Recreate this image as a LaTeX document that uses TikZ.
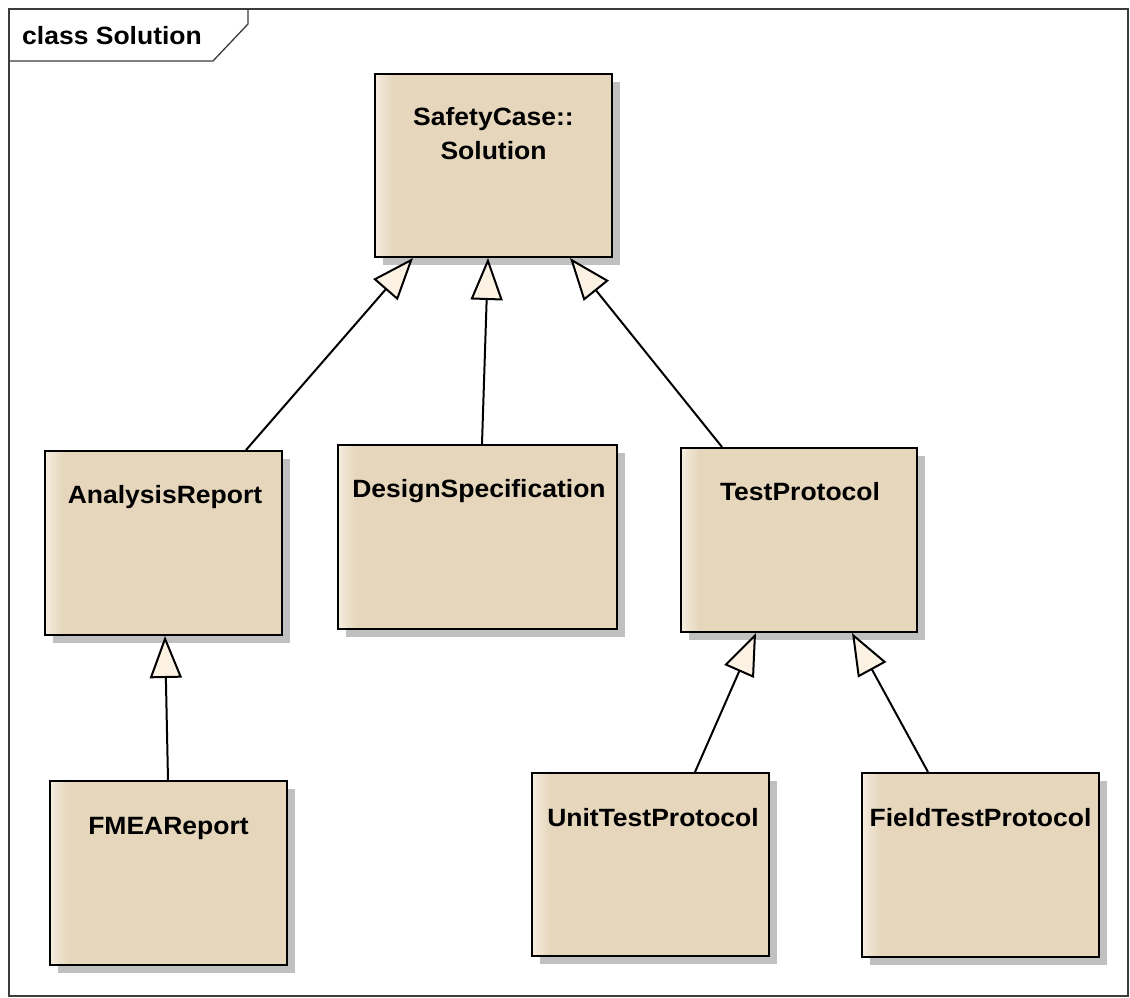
\documentclass[tikz,border=0pt]{standalone}
\usepackage{fontspec}
\newfontfamily\umlfont[FakeStretch=1.06]{Liberation Sans}
\usetikzlibrary{arrows.meta,shadows}
\definecolor{boxfill}{RGB}{229,214,188}
\definecolor{boxlight}{RGB}{245,236,222}
\definecolor{shadowgray}{RGB}{192,192,192}
\definecolor{tipfill}{RGB}{251,242,228}
\definecolor{framegray}{RGB}{60,60,60}
\begin{document}
\begin{tikzpicture}[x=1pt,y=-1pt,
  classbox/.style={draw=black, line width=2pt, fill=boxfill, inner sep=0pt,
    drop shadow={shadow xshift=8pt, shadow yshift=-8pt, fill=shadowgray, opacity=1},
    path picture={\foreach \i in {0,...,9}{
        \pgfmathsetmacro\p{\i*10}
        \fill[boxfill!\p!boxlight]
          ([xshift={\i*1.8}]path picture bounding box.south west) rectangle
          ([xshift={\i*1.8+1.9}]path picture bounding box.north west);}}},
  classtext/.style={anchor=base, inner sep=0pt, font=\umlfont\bfseries\fontsize{25}{30}\selectfont},
  gen/.style={draw=black, line width=2pt, -{Triangle[length=42pt, width=32pt, fill=tipfill]}}
]
\useasboundingbox (0,0) rectangle (1130,998);
% frame
\draw[framegray, line width=1.3pt] (9,9) rectangle (1128,996);
\coordinate (tabA) at (9,61);
\coordinate (tabB) at (213,61);
\coordinate (tabC) at (248,24);
\coordinate (tabD) at (248,9);
\draw[framegray, line width=1.3pt] (tabA) -- (tabB) -- (tabC) -- (tabD);
\node[anchor=base west, inner sep=0pt, font=\umlfont\bfseries\fontsize{25}{30}\selectfont] (title) at (22,45) {class Solution};

% boxes
\node[classbox, minimum width=237pt, minimum height=183pt] (sol) at (493.5,165.5) {};
\node[classbox, minimum width=237pt, minimum height=184pt] (ar) at (163.5,543) {};
\node[classbox, minimum width=279pt, minimum height=184pt] (ds) at (477.5,537) {};
\node[classbox, minimum width=236pt, minimum height=184pt] (tp) at (799,540) {};
\node[classbox, minimum width=237pt, minimum height=184pt] (fm) at (168.5,873) {};
\node[classbox, minimum width=237pt, minimum height=183pt] (ut) at (650.5,864.5) {};
\node[classbox, minimum width=237pt, minimum height=184pt] (ft) at (980.5,865) {};

% texts
\node[classtext] (solt1) at (493.5,125) {SafetyCase::};
\node[classtext] (solt2) at (493.5,159) {Solution};
\node[classtext] (art) at (165,503) {AnalysisReport};
\node[classtext] (dst) at (479,497) {DesignSpecification};
\node[classtext] (tpt) at (800,500) {TestProtocol};
\node[classtext] (fmt) at (168.5,834) {FMEAReport};
\node[classtext] (utt) at (653,826) {UnitTestProtocol};
\node[classtext] (ftt) at (980.5,826) {FieldTestProtocol};

% generalizations
\draw[gen] ([xshift=82.5pt]ar.north) -- ([xshift=-80.5pt]sol.south);
\draw[gen] ([xshift=4.5pt]ds.north) -- ([xshift=-5.5pt]sol.south);
\draw[gen] ([xshift=-77pt]tp.north) -- ([xshift=76.5pt]sol.south);
\draw[gen] ([xshift=-0.5pt]fm.north) -- ([xshift=1.5pt]ar.south);
\draw[gen] ([xshift=44.5pt]ut.north) -- ([xshift=-43pt]tp.south);
\draw[gen] ([xshift=-52.5pt]ft.north) -- ([xshift=53pt]tp.south);
\end{tikzpicture}
\end{document}
